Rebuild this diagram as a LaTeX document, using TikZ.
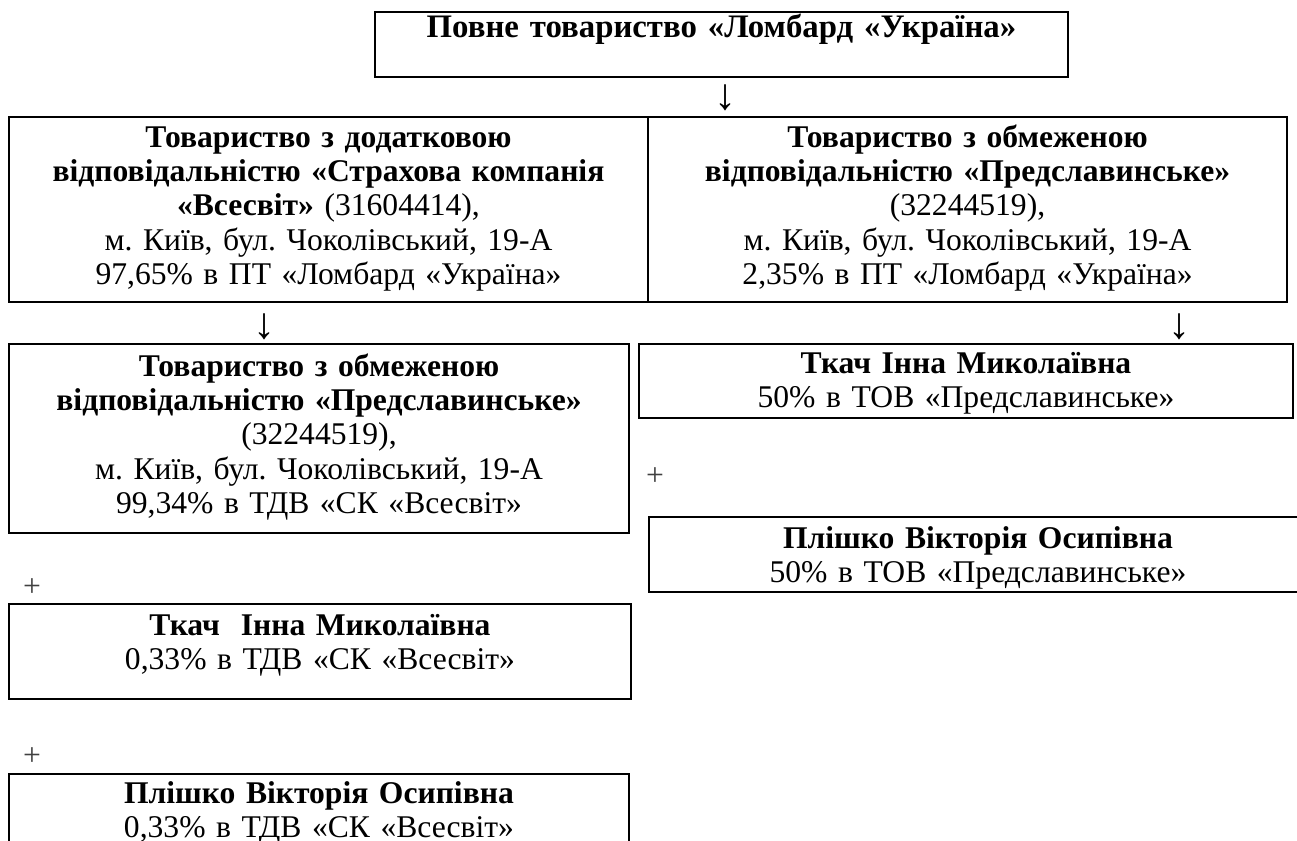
\documentclass[tikz,border=0pt]{standalone}
\usepackage{fontspec}
\setmainfont{Liberation Serif}
\frenchspacing
\usetikzlibrary{positioning}
\tikzstyle{Firma}=[rectangle, draw=black, line width=0.9pt, inner sep=0pt, outer sep=0pt, anchor=north west, align=center, font=\fontsize{15.8pt}{17.2pt}\selectfont]
\tikzstyle{Signo}=[inner sep=0pt, font=\fontsize{15.8pt}{17.2pt}\selectfont]
\tikzstyle{Flecha}=[inner sep=0pt, font=\fontsize{22pt}{24pt}\selectfont]

\begin{document}
\begin{tikzpicture}[x=0.5pt, y=-0.5pt]
			\useasboundingbox (0,0) rectangle (1297,841);
			\clip (0,0) rectangle (1297,841);
			%Cajas
			\node[Firma, font=\fontsize{16.4pt}{17.2pt}\selectfont, text width=346.5pt, text height=12.5pt, text depth=20pt]	(lombard)	at (375,12)	{\textbf{Повне товариство «Ломбард «Україна»}};

			\node[Firma, text width=319.5pt, text height=15pt, text depth=77.5pt]	(vsesvit)	at (9,117)	{\textbf{Товариство з додатковою}\\ \textbf{відповідальністю «Страхова компанія}\\ \textbf{«Всесвіт»} (31604414),\\ м. Київ, бул. Чоколівський, 19-А\\ 97,65\% в ПТ «Ломбард «Україна»};
			\node[Firma, text width=319.5pt, text height=15pt, text depth=77.5pt]	(predsl)	[right=0cm of vsesvit.north east, anchor=north west]	{\textbf{Товариство з обмеженою}\\ \textbf{відповідальністю «Предславинське»}\\ (32244519),\\ м. Київ, бул. Чоколівський, 19-А\\ 2,35\% в ПТ «Ломбард «Україна»};

			\node[Firma, text width=310pt, text height=16pt, text depth=78.5pt]	(predsl_vs)	at (9,344)	{\textbf{Товариство з обмеженою}\\ \textbf{відповідальністю «Предславинське»}\\ (32244519),\\ м. Київ, бул. Чоколівський, 19-А\\ 99,34\% в ТДВ «СК «Всесвіт»};
			\node[Firma, text width=311pt, text height=15.5pt, text depth=32pt]	(tkach_vs)	at (9,604)	{\textbf{Ткач\ \ Інна Миколаївна}\\ 0,33\% в ТДВ «СК «Всесвіт»};
			\node[Firma, text width=310pt, text height=14.5pt, text depth=45.5pt]	(plishko_vs)	at (9,774)	{\textbf{Плішко Вікторія Осипівна}\\ 0,33\% в ТДВ «СК «Всесвіт»};

			\node[Firma, text width=327pt, text height=14.5pt, text depth=22.5pt]	(tkach_pr)	at (639,344)	{\textbf{Ткач Інна Миколаївна}\\ 50\% в ТОВ «Предславинське»};
			\node[Firma, text width=329pt, text height=15.5pt, text depth=22pt]	(plishko_pr)	at (649,517)	{\textbf{Плішко Вікторія Осипівна}\\ 50\% в ТОВ «Предславинське»};

			%Signos
			\node[Flecha]	(flecha_top)	at (725,98)	{↓};
			\node[Flecha]	(flecha_vs)	at (264,327)	{↓};
			\node[Flecha]	(flecha_pr)	at (1179,327)	{↓};
			\node[Signo, text=black!75]	(mas_pr)	at (655,477)	{+};
			\node[Signo, text=black!75]	(mas_vs1)	at (32,588)	{+};
			\node[Signo, text=black!75]	(mas_vs2)	at (32,757)	{+};
		\end{tikzpicture}
\end{document}
